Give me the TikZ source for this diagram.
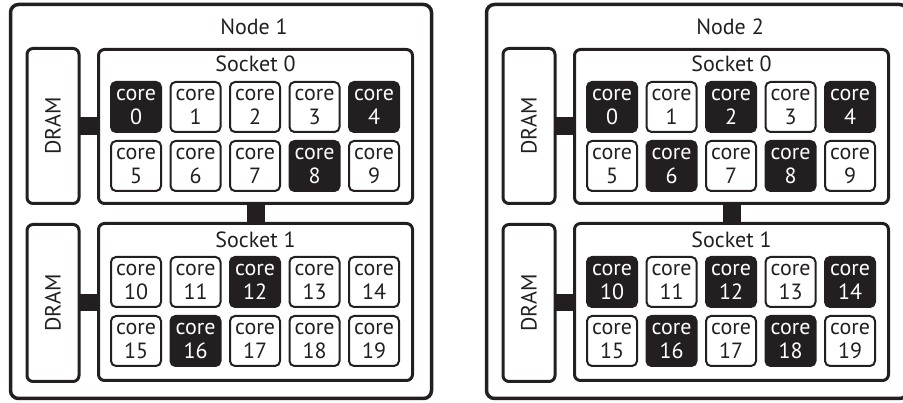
\documentclass[tikz,border=0pt]{standalone}
\usepackage{fontspec}
\setmainfont{PT Sans}
\usetikzlibrary{calc}
\definecolor{ink}{HTML}{231F20}
\tikzset{
  outerbox/.style={draw=ink, line width=3.5pt, rounded corners=8pt, inner sep=0pt, outer sep=0pt},
  sockbox/.style={draw=ink, line width=3pt, rounded corners=6pt, inner sep=0pt, outer sep=0pt},
  drambox/.style={draw=ink, line width=3pt, rounded corners=6pt, inner sep=0pt, outer sep=0pt, minimum width=52pt},
  corebox/.style={draw=ink, line width=2pt, rounded corners=5pt, minimum width=50pt, minimum height=50pt,
    inner sep=0pt, align=center, font=\fontsize{22}{24}\selectfont, text=ink},
  busycore/.style={corebox, fill=ink, text=white},
  titletext/.style={font=\fontsize{22}{24}\selectfont, text=ink, anchor=base},
  linkbar/.style={fill=ink}
}
\begin{document}
\begin{tikzpicture}[x=1pt,y=-1pt]
\useasboundingbox (0,0) rectangle (903,403);
\foreach \n/\dx/\d in {1/0/4, 2/476/2}{
  \node[outerbox, minimum width=421pt, minimum height=394pt] (outer\n) at (221+\dx,201.5) {};
  \node[titletext] (title\n) at (254+\dx,35) {Node \n};
  \node[drambox, minimum height=155pt] (dramA\n) at (53+\dx,126) {};
  \node[drambox, minimum height=157pt] (dramB\n) at (53+\dx,303) {};
  \node[rotate=90, font=\fontsize{22}{24}\selectfont, text=ink] (dramAt\n) at (dramA\n.center) {DRAM};
  \node[rotate=90, font=\fontsize{22}{24}\selectfont, text=ink] (dramBt\n) at (dramB\n.center) {DRAM};
  \node[sockbox, minimum width=314pt, minimum height=154pt] (sockA\n) at (255.5+\dx,126.5) {};
  \node[sockbox, minimum width=314pt, minimum height=157pt] (sockB\n) at (255.5+\dx,302) {};
  \node[titletext] (sockAt\n) at (255.5+\dx,72) {Socket 0};
  \node[titletext] (sockBt\n) at (255.5+\dx,248) {Socket 1};
  \fill[linkbar] ($(dramA\n.east)+(-1,-9)$) rectangle ($(sockA\n.west)+(1,9)$);
  \fill[linkbar] ($(dramB\n.east)+(-1,-9)$) rectangle ($(sockB\n.west)+(1,9)$);
  \fill[linkbar] ($(sockA\n.south)+(-9,-1)$) rectangle ($(sockB\n.north)+(9,1)$);
  \foreach \k in {0,...,19}{
    \pgfmathtruncatemacro\col{mod(\k,5)}
    \pgfmathtruncatemacro\row{int(\k/5)}
    \pgfmathsetmacro\cx{136+59.5*\col+\dx}
    \pgfmathsetmacro\cy{107+59*\row+(\row>1)*57}
    \pgfmathtruncatemacro\isbusy{mod(\k,\d)==0}
    \ifnum\isbusy=1 \def\st{busycore}\else\def\st{corebox}\fi
    \node[\st] (core\n-\k) at (\cx,\cy) {core\\\k};
  }
}
\end{tikzpicture}
\end{document}
